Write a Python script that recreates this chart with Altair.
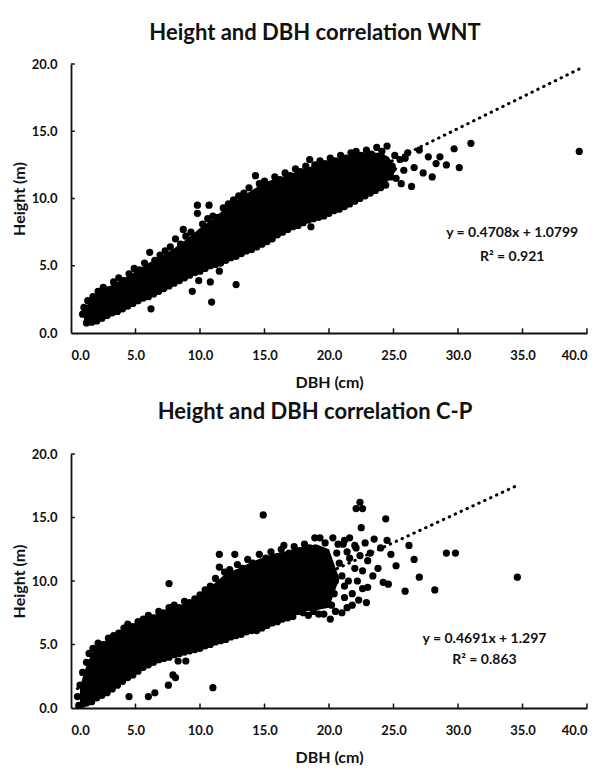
import altair as alt
import pandas as pd

FONT = "Lato"
INK = "#111111"

X_TICKS = [0, 5, 10, 15, 20, 25, 30, 35, 40]
Y_TICKS = [0, 5, 10, 15, 20]

# ---------------- WNT panel ----------------
wnt_title = "Height and DBH correlation WNT"
wnt_slope, wnt_intercept, wnt_r2 = 0.4708, 1.0799, 0.921
wnt_fit_x = [0.9, 39.4]
# dense core of the cloud (lower / upper edge of the solid black band)
wnt_band_x = [1.0, 1.5, 2.0, 3.0, 4.0, 5.0, 6.0, 7.0, 8.0, 9.0, 10.0, 11.0, 12.0,
              13.0, 14.0, 15.0, 16.0, 17.0, 18.0, 19.0, 20.0, 21.0, 22.0, 23.0, 24.0, 24.6, 25.3]
wnt_band_lo = [0.9, 0.9, 1.0, 1.5, 1.8, 2.3, 2.8, 3.3, 3.8, 4.2, 4.7, 5.1, 5.5,
               5.9, 6.3, 6.7, 7.2, 7.7, 8.2, 8.6, 8.9, 9.3, 9.8, 10.4, 10.9, 11.3, 12.2]
wnt_band_hi = [1.7, 2.5, 3.0, 3.5, 4.0, 4.6, 5.2, 5.7, 6.3, 7.0, 7.8, 8.5, 9.3,
               10.0, 10.6, 11.2, 11.5, 11.8, 12.2, 12.5, 12.8, 13.0, 13.3, 13.4, 13.4, 13.1, 12.2]
# individual trees around the edges of the cloud and outliers (DBH cm, height m)
wnt_points = [
    (0.9, 1.4), (1.0, 1.9), (1.3, 2.4), (1.7, 2.7), (2.1, 3.1), (2.5, 3.4), (2.9, 3.2),
    (3.3, 3.8), (3.7, 4.1), (4.1, 3.9), (4.5, 4.4), (4.9, 4.8), (5.3, 4.7), (5.7, 5.2),
    (6.1, 6.0), (6.5, 5.4), (6.9, 5.8), (7.3, 6.1), (7.7, 6.4), (8.1, 7.0), (8.5, 6.6),
    (8.7, 7.7), (8.9, 7.2), (9.3, 7.5), (9.8, 9.5), (9.8, 8.9), (10.2, 8.1), (10.7, 9.5),
    (10.6, 8.5), (11.0, 8.7), (11.4, 8.6), (11.8, 9.3), (12.2, 9.6), (12.6, 9.9),
    (13.0, 10.2), (13.4, 10.4), (13.8, 10.8), (14.3, 11.7), (14.6, 11.1), (15.0, 11.3),
    (15.4, 11.0), (15.8, 11.6), (16.2, 11.4), (16.6, 11.9), (17.0, 11.7), (17.4, 12.2),
    (17.8, 12.0), (18.2, 12.4), (18.5, 12.9), (18.9, 12.5), (19.3, 12.8), (19.7, 12.6),
    (20.1, 13.0), (20.5, 12.8), (20.9, 13.2), (21.3, 13.0), (21.7, 13.4), (22.1, 13.5),
    (22.5, 13.2), (22.9, 13.6), (23.3, 13.3), (23.7, 13.8), (24.1, 13.5), (24.5, 13.9),
    (1.2, 0.75), (1.6, 0.8), (2.0, 0.9), (2.4, 1.1), (2.8, 1.3), (3.2, 1.5), (3.6, 1.6),
    (4.0, 1.8), (4.4, 2.0), (4.8, 2.2), (5.2, 2.4), (5.6, 2.6), (6.0, 2.7), (6.2, 1.8),
    (6.4, 2.9), (6.8, 3.1), (7.2, 3.3), (7.6, 3.5), (8.0, 3.7), (8.4, 3.9), (8.8, 4.1),
    (9.2, 4.3), (9.4, 3.1), (9.9, 3.9), (9.6, 4.5), (10.0, 4.6), (10.8, 3.8), (10.9, 2.3),
    (10.4, 4.8), (10.8, 5.0), (11.2, 5.1), (11.5, 4.6), (11.6, 5.2), (12.0, 5.4),
    (12.4, 5.6), (12.8, 3.6), (12.8, 5.7), (13.2, 5.9), (13.6, 6.1), (14.0, 6.2),
    (14.4, 6.4), (14.8, 6.6), (15.2, 6.8), (15.6, 7.0), (16.0, 7.3), (16.4, 7.5),
    (16.8, 7.7), (17.2, 7.9), (17.6, 8.0), (18.0, 8.2), (18.6, 7.9), (18.4, 8.4),
    (18.8, 8.5), (19.2, 8.6), (19.6, 8.7), (20.0, 8.9), (20.4, 9.1), (20.8, 9.2),
    (21.2, 9.4), (21.6, 9.6), (22.0, 9.8), (22.4, 10.0), (22.8, 10.2), (23.2, 10.4),
    (23.6, 10.6), (24.0, 10.8), (24.4, 11.0),
    (24.9, 12.4), (25.2, 11.5), (25.5, 12.9), (25.8, 12.1), (26.1, 13.4), (26.4, 10.9),
    (26.6, 12.3), (27.0, 13.6), (27.3, 11.9), (27.7, 13.1), (28.0, 11.6), (28.3, 12.6),
    (28.6, 13.1), (29.1, 12.5), (29.7, 13.7), (30.1, 12.3), (31.0, 14.1), (39.4, 13.5),
    (24.8, 11.6), (25.1, 13.2), (25.6, 11.1), (25.9, 13.0),
]
wnt_eq_pos = (34.2, 7.45, 5.65)

# ---------------- C-P panel ----------------
cp_title = "Height and DBH correlation C-P"
cp_slope, cp_intercept, cp_r2 = 0.4691, 1.297, 0.863
cp_fit_x = [0.5, 34.6]
cp_band_x = [0.7, 1.0, 1.5, 2.0, 3.0, 4.0, 5.0, 6.0, 7.0, 8.0, 9.0, 10.0, 11.0,
             12.0, 13.0, 14.0, 15.0, 16.0, 17.0, 18.0, 19.0, 20.0, 20.8]
cp_band_lo = [0.3, 0.35, 0.5, 0.8, 1.4, 2.1, 2.8, 3.5, 3.9, 4.2, 4.5, 4.8, 5.1,
              5.5, 5.8, 6.1, 6.5, 6.9, 7.3, 7.6, 7.7, 7.9, 10.2]
cp_band_hi = [1.6, 2.8, 4.1, 4.9, 5.5, 6.2, 6.7, 7.2, 7.5, 7.9, 8.3, 8.8, 9.7,
              10.6, 11.0, 11.5, 11.9, 12.2, 12.4, 12.7, 12.9, 12.5, 10.2]
cp_points = [
    (0.5, 0.9), (0.7, 1.8), (0.9, 2.8), (1.2, 3.6), (1.4, 4.3), (1.7, 4.7), (2.1, 5.1),
    (2.5, 5.0), (2.9, 5.5), (3.3, 5.7), (3.7, 5.9), (4.1, 6.3), (4.4, 6.6), (4.8, 6.4),
    (5.2, 6.8), (5.6, 7.0), (6.0, 7.3), (6.4, 7.1), (6.8, 7.6), (7.2, 7.5), (7.6, 9.8),
    (7.6, 7.9), (8.0, 8.1), (8.4, 7.9), (8.8, 8.4), (9.2, 8.3), (9.6, 8.6), (10.0, 8.9),
    (10.4, 9.3), (10.8, 9.6), (11.2, 10.2), (11.5, 12.1), (11.5, 11.1), (11.9, 10.7),
    (12.3, 10.9), (12.7, 12.1), (12.9, 11.3), (13.3, 11.0), (13.7, 11.7), (14.1, 11.4),
    (14.6, 12.1), (14.9, 15.2), (15.1, 11.8), (15.5, 12.3), (15.9, 11.9), (16.3, 12.5),
    (16.5, 12.8), (16.9, 12.2), (17.3, 12.7), (17.7, 12.4), (18.1, 12.9), (18.5, 12.6),
    (18.9, 13.4), (19.3, 13.4), (19.7, 13.0), (20.3, 13.4), (20.7, 12.9), (21.2, 13.2),
    (21.6, 13.4), (22.1, 12.6), (22.4, 16.2), (22.1, 15.7), (22.6, 15.7), (22.5, 14.2),
    (22.8, 13.0), (23.2, 12.2), (23.5, 13.3), (24.0, 12.6), (24.4, 14.9), (24.5, 13.2),
    (24.8, 12.1), (25.2, 11.2),
    (0.6, 0.2), (0.9, 0.3), (1.2, 0.4), (1.6, 0.5), (2.0, 0.8), (2.4, 1.0), (2.8, 1.2),
    (3.2, 1.5), (3.6, 1.8), (4.0, 2.1), (4.5, 0.9), (4.4, 2.4), (4.8, 2.6), (5.2, 2.9),
    (5.6, 3.2), (6.0, 0.9), (6.5, 1.2), (6.0, 3.4), (6.4, 3.6), (6.8, 3.8), (7.2, 3.9),
    (7.55, 1.8), (7.6, 4.0), (7.9, 2.6), (8.1, 2.4), (8.3, 3.7), (8.9, 3.7), (8.0, 4.2),
    (8.4, 4.3), (8.8, 4.4), (9.2, 4.5), (9.6, 4.6), (10.0, 4.7), (10.4, 4.9), (10.8, 5.0),
    (11.0, 1.6), (11.2, 5.2), (11.6, 5.3), (12.0, 5.4), (12.4, 5.6), (12.8, 5.7),
    (13.2, 5.8), (13.6, 6.0), (14.0, 6.1), (14.4, 6.1), (14.8, 6.3), (15.2, 6.5),
    (15.6, 6.7), (16.0, 6.8), (16.4, 7.0), (16.8, 7.1), (17.2, 7.2), (17.6, 7.6),
    (18.0, 7.5), (18.4, 7.3), (18.8, 7.6), (19.2, 7.4), (19.6, 7.4), (20.1, 7.0),
    (20.5, 7.6), (21.0, 7.5), (21.4, 7.9), (21.8, 8.1), (22.3, 8.5), (22.9, 8.3),
    (23.4, 10.4),
    (21.8, 9.0), (22.2, 10.0), (21.6, 11.8), (22.4, 12.0), (22.0, 12.8), (23.0, 9.5),
    (22.6, 10.8), (21.5, 10.0), (22.0, 11.0), (22.6, 9.4), (23.0, 11.6), (23.8, 11.0),
    (24.2, 9.9), (24.6, 9.75), (25.9, 9.2), (26.2, 12.8), (26.6, 11.7), (27.0, 10.3),
    (28.2, 9.3), (29.1, 12.2), (29.8, 12.2), (34.6, 10.3),
    (20.4, 9.0), (20.8, 11.4), (21.2, 8.7), (20.6, 12.2), (21.0, 10.4), (21.4, 12.3),
    (20.2, 8.1), (21.2, 9.6), (20.5, 10.0), (21.1, 12.9),
]
cp_eq_pos = (32.05, 5.4, 3.8)


def make_panel(title, band_x, band_lo, band_hi, points, slope, intercept, r2,
               fit_x, eq_pos, width, height, title_offset):
    xs = alt.Scale(domain=[0, 40], nice=False, zero=False)
    ys = alt.Scale(domain=[0, 20], nice=False, zero=False)
    xax = alt.Axis(values=X_TICKS, format=".1f", title="DBH (cm)")
    yax = alt.Axis(values=Y_TICKS, format=".1f", title="Height (m)")

    band_df = pd.DataFrame({"x": band_x, "lo": band_lo, "hi": band_hi})
    pts_df = pd.DataFrame(points, columns=["x", "y"])
    fit_df = pd.DataFrame({"x": fit_x, "y": [slope * v + intercept for v in fit_x]})
    eq_df = pd.DataFrame({
        "x": [eq_pos[0], eq_pos[0]],
        "y": [eq_pos[1], eq_pos[2]],
        "t": [f"y = {slope}x  + {intercept}", f"R\u00b2 = {r2}"],
    })

    band = alt.Chart(band_df).mark_area(color="black", opacity=1).encode(
        x=alt.X("x:Q", scale=xs, axis=xax),
        y=alt.Y("lo:Q", scale=ys, axis=yax),
        y2="hi:Q",
    )
    dots = alt.Chart(pts_df).mark_circle(color="black", opacity=1, size=52).encode(
        x=alt.X("x:Q", scale=xs, axis=xax),
        y=alt.Y("y:Q", scale=ys, axis=yax),
    )
    fit = alt.Chart(fit_df).mark_line(
        color="black", strokeWidth=3, strokeDash=[0.5, 6], strokeCap="round"
    ).encode(
        x=alt.X("x:Q", scale=xs, axis=xax),
        y=alt.Y("y:Q", scale=ys, axis=yax),
    )
    xt = alt.Chart(pd.DataFrame({"v": X_TICKS[1:]})).mark_rule(
        color=INK, strokeWidth=1.5
    ).encode(
        x=alt.X("v:Q", scale=xs, axis=xax),
        y=alt.datum(0),
        y2=alt.datum(0.35),
    )
    yt = alt.Chart(pd.DataFrame({"v": Y_TICKS[1:]})).mark_rule(
        color=INK, strokeWidth=1.5
    ).encode(
        y=alt.Y("v:Q", scale=ys, axis=yax),
        x=alt.datum(0),
        x2=alt.datum(0.3),
    )
    eq = alt.Chart(eq_df).mark_text(
        font=FONT, fontSize=14, fontWeight="bold", color=INK,
        align="center", baseline="middle"
    ).encode(
        x=alt.X("x:Q", scale=xs, axis=xax),
        y=alt.Y("y:Q", scale=ys, axis=yax),
        text="t:N",
    )
    return alt.layer(band, dots, fit, xt, yt, eq).properties(
        width=width,
        height=height,
        title=alt.TitleParams(
            text=title, font=FONT, fontSize=22, fontWeight="bold", color=INK,
            anchor="middle", dx=-14, offset=title_offset,
        ),
    )


p1 = make_panel(wnt_title, wnt_band_x, wnt_band_lo, wnt_band_hi, wnt_points,
                wnt_slope, wnt_intercept, wnt_r2, wnt_fit_x, wnt_eq_pos, 516, 269, 13)
p2 = make_panel(cp_title, cp_band_x, cp_band_lo, cp_band_hi, cp_points,
                cp_slope, cp_intercept, cp_r2, cp_fit_x, cp_eq_pos, 516, 254, 24)

chart = alt.vconcat(p1, p2, spacing=11).properties(
    padding={"left": 3, "top": 14, "right": 0, "bottom": 0},
    background="white",
).configure_view(stroke=None).configure_axis(
    domainColor=INK, domainWidth=1.8, ticks=False, tickSize=0, grid=False,
    labelFont=FONT, labelFontSize=13, labelFontWeight="bold", labelColor=INK,
    titleFont=FONT, titleFontSize=16, titleFontWeight="bold", titleColor=INK,
).configure_axisX(labelPadding=16, titlePadding=12).configure_axisY(
    labelPadding=14, titlePadding=4)

chart.save("out.html", embed_options={"renderer": "svg", "actions": False})
